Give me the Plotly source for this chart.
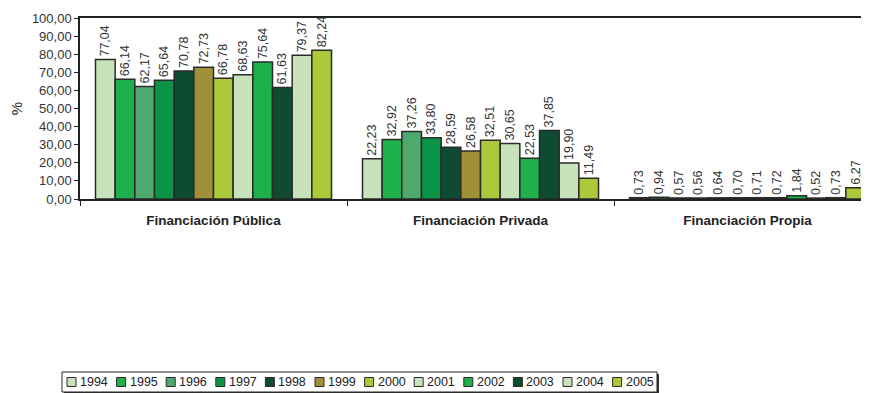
import plotly.graph_objects as go

categories = ["Financiación Pública", "Financiación Privada", "Financiación Propia"]
years = ["1994", "1995", "1996", "1997", "1998", "1999",
         "2000", "2001", "2002", "2003", "2004", "2005"]

publica = [77.04, 66.14, 62.17, 65.64, 70.78, 72.73, 66.78, 68.63, 75.64, 61.63, 79.37, 82.24]
privada = [22.23, 32.92, 37.26, 33.80, 28.59, 26.58, 32.51, 30.65, 22.53, 37.85, 19.90, 11.49]
propia = [0.73, 0.94, 0.57, 0.56, 0.64, 0.70, 0.71, 0.72, 1.84, 0.52, 0.73, 6.27]

colors = ["#C8E3BC", "#1DB04B", "#4FA86E", "#0A9447", "#0E4B32", "#A09038",
          "#ABC93A", "#C8E3BC", "#1DB04B", "#0E4B32", "#C8E3BC", "#ABC93A"]

# the page body has an 8px margin, so the figure is drawn 8px smaller
W, H = 861, 385
ML, MT, MB = 72, 10, 194
PW, PH = W - ML, H - MT - MB


def px_x(x):
    # page pixel -> paper x
    return (x - 8 - ML) / PW


def px_y(y):
    # page pixel -> paper y
    return (H - MB - (y - 8)) / PH


fig = go.Figure()
for i, yr in enumerate(years):
    fig.add_trace(go.Bar(
        x=categories,
        y=[publica[i], privada[i], propia[i]],
        name=yr,
        marker=dict(color=colors[i], line=dict(color="#2a2a2a", width=1.5)),
        texttemplate="%{y:.2f}",
        textposition="outside",
        textangle=-90,
        constraintext="none",
        cliponaxis=False,
        textfont=dict(size=12.5, color="#333333"),
    ))

# legend drawn by hand: plotly's own legend can't get this tight spacing
shapes = [
    dict(type="rect", xref="paper", yref="paper",
         x0=px_x(64), x1=px_x(659), y0=px_y(394), y1=px_y(374),
         fillcolor="#333333", line=dict(width=0), layer="above"),
    dict(type="rect", xref="paper", yref="paper",
         x0=px_x(62), x1=px_x(657), y0=px_y(392), y1=px_y(372),
         fillcolor="white", line=dict(color="#222222", width=1), layer="above"),
]
annotations = []
pitch = 49.6
for i, yr in enumerate(years):
    sx = 67 + i * pitch
    shapes.append(dict(type="rect", xref="paper", yref="paper",
                       x0=px_x(sx), x1=px_x(sx + 9), y0=px_y(386.5), y1=px_y(377.5),
                       fillcolor=colors[i], line=dict(color="#2a2a2a", width=1), layer="above"))
    annotations.append(dict(text=yr, xref="paper", yref="paper",
                            x=px_x(sx + 11), y=px_y(382), xanchor="left", yanchor="middle",
                            showarrow=False, font=dict(size=12.5, color="#222222")))

fig.update_layout(
    width=W,
    height=H,
    margin=dict(l=ML, r=0, t=MT, b=MB),
    barmode="group",
    bargap=0.116,
    bargroupgap=0,
    separators=",.",
    paper_bgcolor="white",
    plot_bgcolor="white",
    font=dict(family="Liberation Sans, Arial, sans-serif", size=12, color="#333333"),
    showlegend=False,
    shapes=shapes,
    annotations=annotations,
    xaxis=dict(
        range=[-0.5, 2.455],
        showline=True, linecolor="#222222", linewidth=1.5,
        mirror=True,
        ticks="outside", ticklen=5, tickcolor="#222222",
        tickson="boundaries",
        tickfont=dict(size=13.5, color="#222222"),
        ticklabelstandoff=8,
        showgrid=False,
    ),
    yaxis=dict(
        range=[0, 100],
        dtick=10,
        tickformat=".2f",
        showline=True, linecolor="#222222", linewidth=1.5,
        ticks="outside", ticklen=4, tickcolor="#222222",
        tickfont=dict(size=13, color="#333333"),
        showgrid=False,
        zeroline=False,
        title=dict(text="%", font=dict(size=15, color="#222222"), standoff=10),
    ),
)

fig.update_xaxes(ticktext=["<b>" + c + "</b>" for c in categories], tickvals=categories)

fig.write_html("out.html")
